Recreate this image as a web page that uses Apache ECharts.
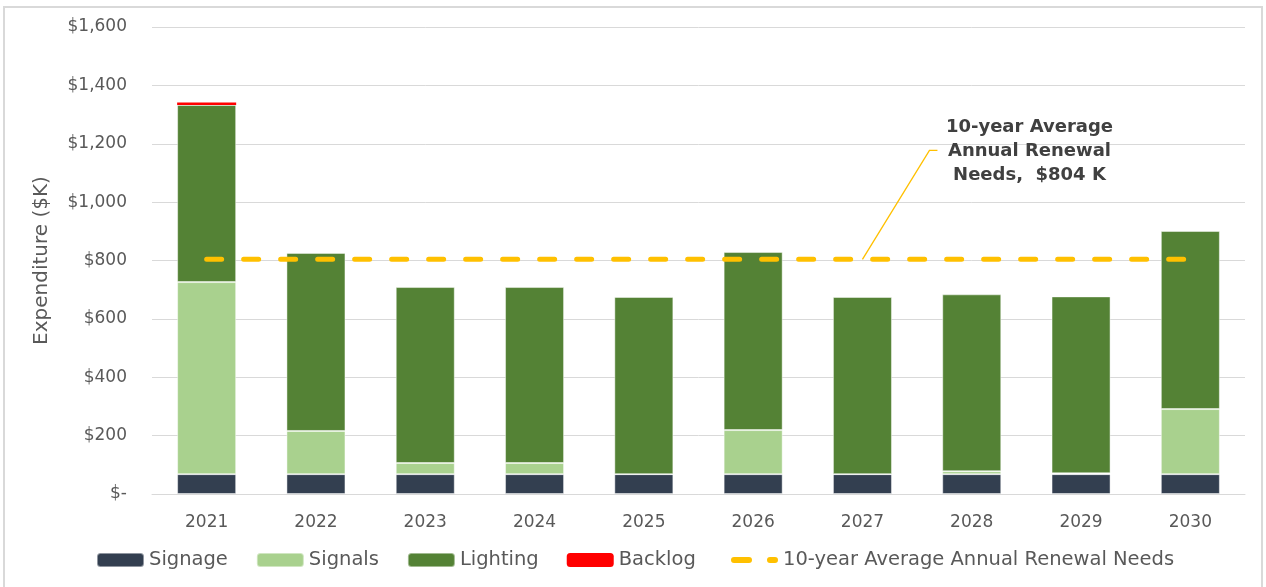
<!DOCTYPE html>
<html>
<head>
<meta charset="utf-8">
<script src="https://cdn.jsdelivr.net/npm/echarts@6/dist/echarts.min.js"></script>
<style>
  html, body { margin: 0; padding: 0; background: #fff; }
  #chart { width: 1266px; height: 587px; }
</style>
</head>
<body>
<div id="chart"></div>
<script>
// Annual renewal expenditure by asset type ($K)
const years = ['2021', '2022', '2023', '2024', '2025', '2026', '2027', '2028', '2029', '2030'];
const signage  = [68, 68, 68, 68, 68, 68, 68, 68, 68, 68];
const signals  = [658, 148, 38, 38, 0, 151, 0, 10, 3, 223];
const lighting = [607, 610, 603, 603, 607, 610, 607, 606, 606, 610];
const backlog  = [8, 0, 0, 0, 0, 0, 0, 0, 0, 0];
const averageNeeds = 804;
const averageLabel = '10-year Average Annual Renewal Needs';
const yTicks = { min: 0, max: 1600, interval: 200 };

const FONT = '"DejaVu Sans", sans-serif';
const GREY = '#595959';

// Two short rounded dashes used as the legend key of the average line
const DASH_ICON = 'path://M3,0 H18 A3,3 0 0 1 18,6 H3 A3,3 0 0 1 3,0 Z M39,0 H44 A3,3 0 0 1 44,6 H39 A3,3 0 0 1 39,0 Z';

const chart = echarts.init(document.getElementById('chart'), null, { renderer: 'canvas' });

const barStyle = (color) => ({
  color: color,
  borderColor: 'rgba(255,255,255,0.45)',
  borderWidth: 1
});

const legendText = { fontFamily: FONT, fontSize: 19.5, color: GREY };

const frame = {
  type: 'rect',
  silent: true,
  z: 100,
  shape: { x: 4, y: 7, width: 1258, height: 600 },
  style: { fill: 'none', stroke: '#D9D9D9', lineWidth: 2 }
};

const option = {
  animation: false,
  backgroundColor: '#fff',
  textStyle: { fontFamily: FONT },
  grid: { left: 152, right: 21, top: 27, bottom: 93 },
  legend: [
    {
      left: 96,
      top: 550,
      padding: 0,
      itemWidth: 47,
      itemHeight: 14,
      itemGap: 28,
      textStyle: legendText,
      data: ['Signage', 'Signals', 'Lighting', 'Backlog']
    },
    {
      left: 731,
      top: 550,
      padding: 0,
      itemWidth: 47,
      itemHeight: 6,
      textStyle: legendText,
      data: [{ name: averageLabel, icon: DASH_ICON }]
    }
  ],
  xAxis: {
    type: 'category',
    data: years,
    axisLine: { lineStyle: { color: '#D9D9D9', width: 1 } },
    axisTick: { show: false },
    axisLabel: { color: GREY, fontSize: 17, fontFamily: FONT, margin: 20 }
  },
  yAxis: {
    type: 'value',
    min: yTicks.min,
    max: yTicks.max,
    interval: yTicks.interval,
    name: 'Expenditure ($K)',
    nameLocation: 'middle',
    nameGap: 100,
    nameTextStyle: { color: GREY, fontSize: 20, fontFamily: FONT },
    axisLine: { show: false },
    axisTick: { show: false },
    splitLine: { lineStyle: { color: '#D9D9D9', width: 1 } },
    axisLabel: {
      color: GREY,
      fontSize: 17,
      fontFamily: FONT,
      margin: 25,
      formatter: (v) => v === 0 ? '$-' : '$' + v.toLocaleString('en-US')
    }
  },
  series: [
    { name: 'Signage', type: 'bar', stack: 'total', barWidth: '54%', data: signage, itemStyle: barStyle('#333F50') },
    { name: 'Signals', type: 'bar', stack: 'total', data: signals, itemStyle: barStyle('#A9D18E') },
    { name: 'Lighting', type: 'bar', stack: 'total', data: lighting, itemStyle: barStyle('#548235') },
    { name: 'Backlog', type: 'bar', stack: 'total', data: backlog, itemStyle: { color: '#FF0000' } },
    {
      name: averageLabel,
      type: 'line',
      data: years.map(() => averageNeeds),
      symbol: 'none',
      z: 5,
      lineStyle: { color: '#FFC000', width: 5, type: [15, 22], cap: 'round' },
      itemStyle: { color: '#FFC000' }
    }
  ],
  graphic: [frame]
};

chart.setOption(option);

// Callout for the average line, anchored at the 2027 category on the line
const anchor = chart.convertToPixel({ xAxisIndex: 0, yAxisIndex: 0 }, ['2027', averageNeeds]);
const ax = anchor[0], ay = anchor[1];
chart.setOption({
  graphic: [
    frame,
    {
      type: 'polyline',
      silent: true,
      z: 50,
      shape: { points: [[ax, ay], [ax + 67, ay - 109], [ax + 75, ay - 109]] },
      style: { stroke: '#FFC000', lineWidth: 1.3, fill: 'none' }
    },
    {
      type: 'text',
      silent: true,
      z: 50,
      style: {
        x: ax + 167,
        y: ay - 108,
        text: '10-year Average\nAnnual Renewal\nNeeds,  $' + averageNeeds + ' K',
        font: 'bold 18px ' + FONT,
        fill: '#404040',
        align: 'center',
        verticalAlign: 'middle',
        lineHeight: 24
      }
    }
  ]
});
</script>
</body>
</html>
